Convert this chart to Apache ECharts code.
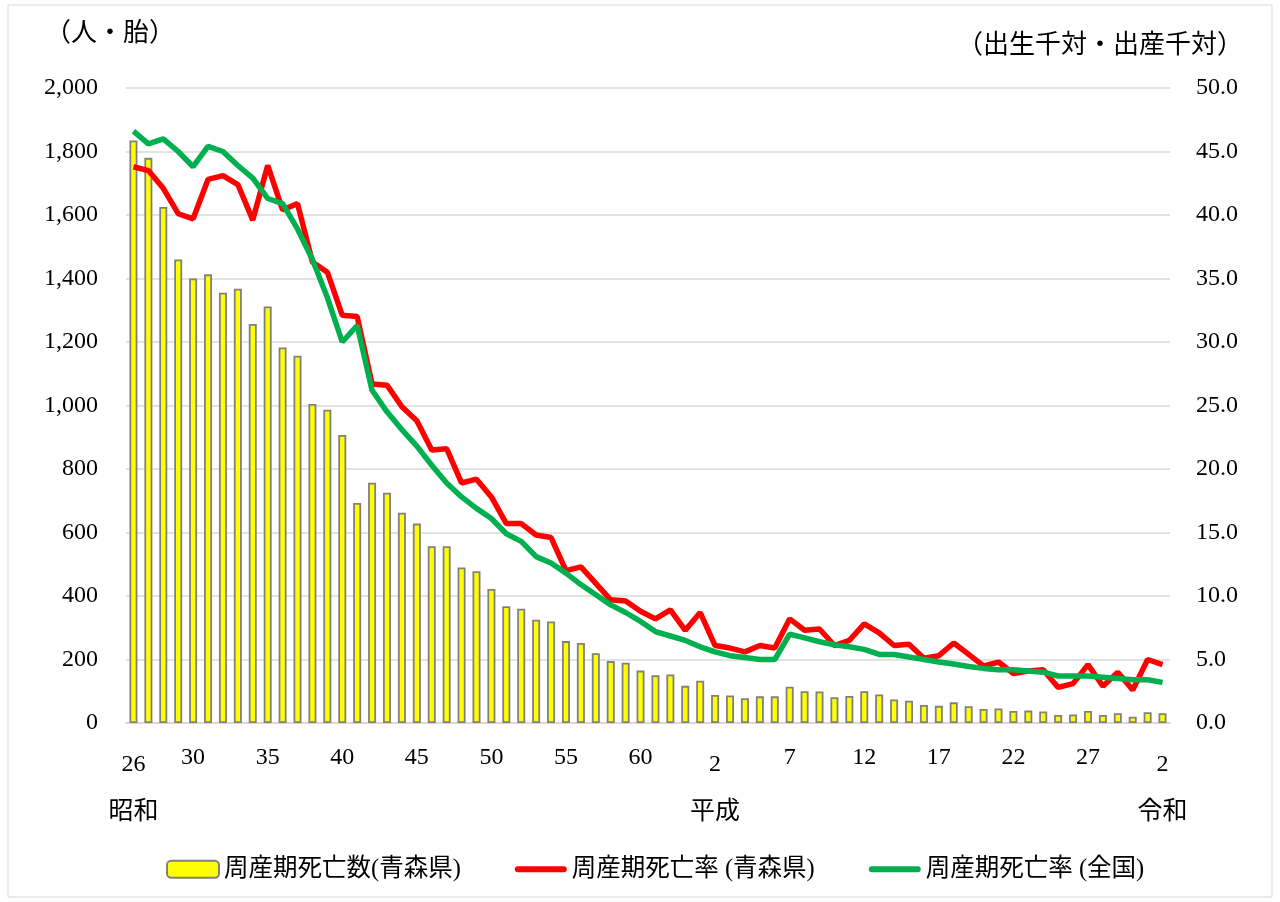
<!DOCTYPE html>
<html>
<head>
<meta charset="utf-8">
<script src="https://cdn.jsdelivr.net/npm/echarts@6/dist/echarts.min.js"></script>
<style>
  html, body { margin: 0; padding: 0; background: #fff; }
  #chart { width: 1280px; height: 902px; }
</style>
</head>
<body>
<div id="chart"></div>
<script>
// 年次（昭和26年〜令和2年）
const categories = [];
for (let y = 26; y <= 63; y++) categories.push('昭和' + y);
for (let y = 1; y <= 30; y++) categories.push('平成' + y);
categories.push('令和1', '令和2');

// 目盛に表示する年
const tickLabels = ['昭和26', '昭和30', '昭和35', '昭和40', '昭和45', '昭和50', '昭和55', '昭和60',
  '平成2', '平成7', '平成12', '平成17', '平成22', '平成27', '令和2'];
// 元号名を下に出す年
const eraLabels = { '昭和26': '昭和', '平成2': '平成', '令和2': '令和' };

// 周産期死亡数（青森県）
const deaths = [1835, 1780, 1625, 1460, 1400, 1413, 1355, 1368, 1257, 1312,
  1183, 1157, 1005, 987, 907, 693, 757, 725, 662, 628,
  557, 557, 490, 478, 422, 368, 360, 325, 320, 258,
  252, 220, 195, 190, 165, 150, 153, 117, 133, 88,
  87, 78, 84, 84, 114, 100, 99, 81, 85, 100,
  90, 74, 70, 57, 54, 65, 53, 44, 46, 38,
  39, 36, 25, 27, 38, 25, 31, 20, 34, 31];

// 周産期死亡率（青森県）
const rateAomori = [43.8, 43.5, 42.1, 40.1, 39.7, 42.8, 43.1, 42.4, 39.6, 43.9,
  40.4, 40.9, 36.3, 35.5, 32.1, 32.0, 26.7, 26.6, 24.9, 23.8,
  21.5, 21.6, 18.9, 19.2, 17.8, 15.7, 15.7, 14.8, 14.6, 12.0,
  12.3, 11.0, 9.7, 9.6, 8.8, 8.2, 8.9, 7.3, 8.7, 6.1,
  5.9, 5.6, 6.1, 5.9, 8.2, 7.3, 7.4, 6.1, 6.5, 7.8,
  7.1, 6.1, 6.2, 5.1, 5.3, 6.3, 5.4, 4.5, 4.8, 3.9,
  4.1, 4.2, 2.8, 3.1, 4.6, 2.9, 4.0, 2.6, 5.0, 4.6];

// 周産期死亡率（全国）
const rateJapan = [46.6, 45.6, 46.0, 45.0, 43.8, 45.4, 45.0, 43.9, 42.9, 41.3,
  40.9, 38.9, 36.5, 33.5, 30.0, 31.3, 26.2, 24.5, 23.1, 21.8,
  20.3, 18.9, 17.8, 16.9, 16.1, 14.9, 14.3, 13.1, 12.6, 11.8,
  10.9, 10.1, 9.3, 8.7, 8.0, 7.2, 6.85, 6.5, 6.0, 5.6,
  5.3, 5.15, 5.0, 5.0, 7.0, 6.7, 6.4, 6.15, 6.0, 5.8,
  5.4, 5.4, 5.2, 5.0, 4.8, 4.65, 4.45, 4.3, 4.2, 4.2,
  4.1, 4.0, 3.7, 3.7, 3.7, 3.6, 3.5, 3.4, 3.4, 3.2];

const FONT = "'Liberation Serif', 'Noto Sans CJK JP', serif";
// 凡例の線アイコン（丸端の太線）
const LINE_ICON = 'path://M3,0L49,0A3,3 0 0 1 49,6L3,6A3,3 0 0 1 3,0Z';

const myChart = echarts.init(document.getElementById('chart'));

const option = {
  backgroundColor: '#fff',
  textStyle: { fontFamily: FONT, color: '#000' },
  // 外枠
  graphic: [{
    type: 'rect',
    shape: { x: 8, y: 5, width: 1264, height: 892 },
    style: { fill: 'none', stroke: '#D9D9D9', lineWidth: 1 },
    silent: true
  }],
  grid: { left: 126, right: 110, top: 88, bottom: 179 },
  legend: {
    left: 161,
    top: 852,
    itemWidth: 52,
    itemHeight: 17,
    itemGap: 54,
    textStyle: { fontFamily: FONT, fontSize: 24.5, color: '#000' },
    data: [
      { name: '周産期死亡数(青森県)' },
      { name: '周産期死亡率 (青森県)', icon: LINE_ICON },
      { name: '周産期死亡率 (全国)', icon: LINE_ICON }
    ]
  },
  xAxis: {
    type: 'category',
    data: categories,
    axisTick: { show: false },
    axisLine: { lineStyle: { color: '#D9D9D9', width: 2 } },
    axisLabel: {
      margin: 20,
      color: '#000',
      interval: (i, v) => tickLabels.includes(v),
      formatter: (v) => {
        const num = v.replace(/^(昭和|平成|令和)/, '');
        if (eraLabels[v]) return '{low|' + num + '}\n{era|' + eraLabels[v] + '}';
        return '{n|' + num + '}';
      },
      rich: {
        n: { fontSize: 24, lineHeight: 30, fontFamily: FONT, color: '#000' },
        low: { fontSize: 24, lineHeight: 44, fontFamily: FONT, color: '#000' },
        era: { fontSize: 25, lineHeight: 50, fontFamily: FONT, color: '#000' }
      }
    }
  },
  yAxis: [
    {
      type: 'value',
      min: 0,
      max: 2000,
      interval: 200,
      name: '（人・胎）',
      nameLocation: 'end',
      nameGap: 41,
      nameTextStyle: { fontSize: 26, color: '#000', fontFamily: FONT, padding: [0, 32, 0, 0] },
      axisLine: { show: false },
      axisTick: { show: false },
      axisLabel: {
        margin: 28,
        fontSize: 24,
        color: '#000',
        formatter: (v) => v.toLocaleString('en-US')
      },
      splitLine: { lineStyle: { color: '#D9D9D9', width: 1.5 } }
    },
    {
      type: 'value',
      min: 0,
      max: 50,
      interval: 5,
      name: '（出生千対・出産千対）',
      nameLocation: 'end',
      nameGap: 29,
      nameTextStyle: { fontSize: 26, color: '#000', fontFamily: FONT, padding: [0, 140, 0, 0] },
      axisLine: { show: false },
      axisTick: { show: false },
      axisLabel: {
        margin: 26,
        fontSize: 24,
        color: '#000',
        formatter: (v) => v.toFixed(1)
      },
      splitLine: { show: false }
    }
  ],
  series: [
    {
      name: '周産期死亡数(青森県)',
      type: 'bar',
      yAxisIndex: 0,
      barWidth: 8,
      itemStyle: { color: '#FFFF00', borderColor: '#808080', borderWidth: 1.8 },
      data: deaths
    },
    {
      name: '周産期死亡率 (青森県)',
      type: 'line',
      yAxisIndex: 1,
      symbol: 'none',
      lineStyle: { color: '#FF0000', width: 5.5 },
      itemStyle: { color: '#FF0000' },
      data: rateAomori
    },
    {
      name: '周産期死亡率 (全国)',
      type: 'line',
      yAxisIndex: 1,
      symbol: 'none',
      lineStyle: { color: '#00B050', width: 5.5 },
      itemStyle: { color: '#00B050' },
      data: rateJapan
    }
  ]
};

myChart.setOption(option);
</script>
</body>
</html>
